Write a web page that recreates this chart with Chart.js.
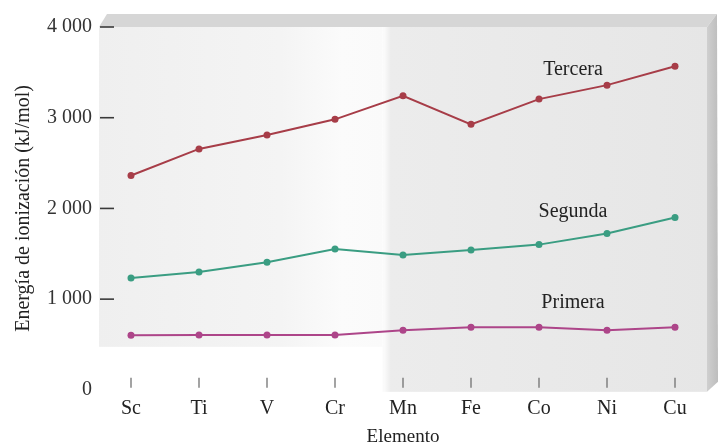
<!DOCTYPE html>
<html>
<head>
<meta charset="utf-8">
<script src="https://cdn.jsdelivr.net/npm/chart.js@4.4.0/dist/chart.umd.min.js"></script>
<style>
  html, body { margin: 0; padding: 0; background: #fff; }
  #wrap { width: 719px; height: 445px; }
</style>
</head>
<body>
<div id="wrap"><canvas id="chart"></canvas></div>
<script>
const elementos = ['Sc', 'Ti', 'V', 'Cr', 'Mn', 'Fe', 'Co', 'Ni', 'Cu'];
const primera = [601, 604, 604, 604, 656, 689, 689, 656, 689];
const segunda = [1234, 1300, 1407, 1553, 1487, 1541, 1601, 1723, 1901];
const tercera = [2363, 2656, 2810, 2982, 3242, 2927, 3205, 3359, 3568];
const yTicks = [0, 1000, 2000, 3000, 4000];
const nombres = ['Tercera', 'Segunda', 'Primera'];

const FONT = '"Liberation Serif", "DejaVu Serif", serif';
const COLORS = { tercera: '#a73d48', segunda: '#3a9d82', primera: '#ad4589' };

// fondo tipo "caja" 3D, marcas de ejes y rótulos de series
const decoPlugin = {
    id: 'deco',
    beforeDraw(chart) {
        const { ctx, chartArea: a } = chart;
        const mid = chart.scales.x.getPixelForValue(3.7);
        ctx.save();
        // cara superior
        ctx.fillStyle = '#d6d6d6';
        ctx.beginPath();
        ctx.moveTo(a.left + 2, a.top);
        ctx.lineTo(a.left + 10, a.top - 13);
        ctx.lineTo(a.right + 8, a.top - 13);
        ctx.lineTo(a.right - 2, a.top);
        ctx.closePath();
        ctx.fill();
        // cara lateral derecha
        const g2 = ctx.createLinearGradient(a.right - 2, 0, a.right + 9, 0);
        g2.addColorStop(0, '#cfcfcf');
        g2.addColorStop(1, '#bdbdbd');
        ctx.fillStyle = g2;
        ctx.beginPath();
        ctx.moveTo(a.right - 2, a.top);
        ctx.lineTo(a.right + 8, a.top - 13);
        ctx.lineTo(a.right + 9, a.bottom - 8);
        ctx.lineTo(a.right - 2, a.bottom + 2);
        ctx.closePath();
        ctx.fill();
        // cara frontal
        const g = ctx.createLinearGradient(a.left, 0, a.right, 0);
        g.addColorStop(0, '#efefef');
        g.addColorStop(0.3, '#f4f4f4');
        g.addColorStop(0.4, '#fbfbfb');
        g.addColorStop(0.47, '#fafafa');
        g.addColorStop(0.48, '#ececec');
        g.addColorStop(1, '#e6e6e6');
        ctx.fillStyle = g;
        ctx.fillRect(a.left + 2, a.top, mid - a.left - 2, a.bottom - 43 - a.top);
        ctx.fillRect(mid, a.top, a.right - 2 - mid, a.bottom + 2 - a.top);
        ctx.restore();
    },
    afterDraw(chart) {
        const { ctx, chartArea: a, scales: { x, y } } = chart;
        ctx.save();
        // marcas del eje y
        ctx.strokeStyle = '#3a3a3a';
        ctx.lineWidth = 1.6;
        yTicks.forEach(v => {
            if (v === 0) return;
            const py = y.getPixelForValue(v);
            ctx.beginPath();
            ctx.moveTo(a.left + 3, py);
            ctx.lineTo(a.left + 17, py);
            ctx.stroke();
        });
        // marcas del eje x
        ctx.strokeStyle = '#666';
        ctx.lineWidth = 1.2;
        elementos.forEach((e, i) => {
            const px = x.getPixelForValue(i);
            ctx.beginPath();
            ctx.moveTo(px, a.bottom - 12);
            ctx.lineTo(px, a.bottom - 2);
            ctx.stroke();
        });
        // rótulos de las series
        ctx.fillStyle = '#222';
        ctx.font = '20px ' + FONT;
        ctx.textAlign = 'center';
        ctx.textBaseline = 'middle';
        const lx = x.getPixelForValue(6.5);
        const ly = [3530, 1960, 960];
        nombres.forEach((n, i) => ctx.fillText(n, lx, y.getPixelForValue(ly[i])));
        ctx.restore();
    }
};

function serie(label, data, color) {
    return {
        label, data,
        borderColor: color,
        backgroundColor: color,
        borderWidth: 2,
        pointRadius: 3.5,
        pointHoverRadius: 3.5,
        pointBorderWidth: 0,
        tension: 0
    };
}

new Chart(document.getElementById('chart'), {
    type: 'line',
    data: {
        labels: elementos,
        datasets: [
            serie('Tercera', tercera, COLORS.tercera),
            serie('Segunda', segunda, COLORS.segunda),
            serie('Primera', primera, COLORS.primera)
        ]
    },
    options: {
        responsive: true,
        maintainAspectRatio: false,
        animation: false,
        layout: { padding: { top: 27, right: 10, left: 0, bottom: 0 } },
        plugins: { legend: { display: false }, tooltip: { enabled: false } },
        scales: {
            x: {
                offset: true,
                border: { display: false },
                grid: { display: false, drawTicks: false },
                ticks: { color: '#222', font: { family: FONT, size: 20, lineHeight: 1 }, padding: 9 },
                title: { display: true, text: 'Elemento', color: '#222', font: { family: FONT, size: 19, lineHeight: 0.85 }, padding: { top: 1, bottom: 0 } }
            },
            y: {
                min: 0, max: 4000,
                afterFit: s => { s.width = 97; },
                afterBuildTicks: s => { s.ticks = yTicks.map(v => ({ value: v })); },
                border: { display: false },
                grid: { display: false, drawTicks: false },
                ticks: {
                    color: '#333',
                    font: { family: FONT, size: 20 },
                    padding: 5,
                    callback: v => v === 0 ? '0' : String(v).replace(/\B(?=(\d{3})+(?!\d))/g, ' ')
                },
                title: { display: true, text: 'Energía de ionización (kJ/mol)', color: '#222', font: { family: FONT, size: 20 }, padding: { top: 12, bottom: 0 } }
            }
        }
    },
    plugins: [decoPlugin]
});
</script>
</body>
</html>
